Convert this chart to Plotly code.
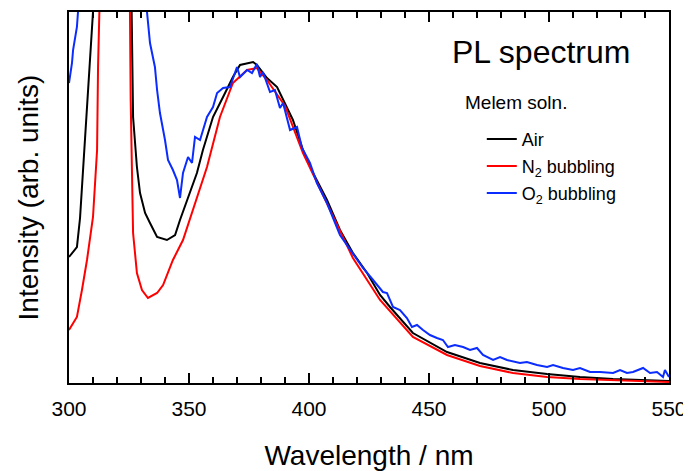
import plotly.graph_objects as go

# Wavelength (nm) and intensity (arb. units)
air_wl = [300.0, 303.3, 304.6, 306.7, 308.75, 310.0, 312.0, 318.0, 324.0, 326.1, 326.7, 328.3, 329.6,
          331.7, 333.75, 336.7, 340.8, 344.2, 346.25, 349.2, 353.3, 355.8, 360.0, 364.2, 368.3,
          371.25, 376.7, 378.3, 382.5, 386.7, 390.0, 393.3, 397.5, 401.7, 407.5, 412.9, 418.3,
          424.2, 429.6, 433.75, 443.3, 457.5, 471.25, 485.0, 499.2, 512.9, 526.7, 540.8, 550.0]
air_int = [126, 136, 165, 250, 326, 371, 600, 900, 600, 371, 266, 216, 190,
           170, 160, 146, 143, 148, 163, 183, 210, 233, 266, 286, 306,
           318, 321, 318, 305, 296, 280, 263, 233, 210, 183, 153, 130,
           110, 88, 76, 50, 31, 20, 13, 9, 6, 4, 3, 2]

n2_wl = [300.0, 303.3, 305.4, 307.5, 310.0, 311.7, 312.1, 312.9, 315.0, 319.0, 323.0, 325.4, 325.7,
         326.25, 326.7, 328.3, 330.4, 332.9, 336.7, 339.2, 343.3, 347.5, 351.7, 357.5, 362.9,
         368.3, 374.2, 378.3, 382.5, 390.0, 397.5, 407.5, 418.3, 429.6, 443.3, 457.5, 471.25,
         485.0, 499.2, 512.9, 526.7, 550.0]
n2_int = [53, 66, 93, 123, 166, 233, 316, 371, 700, 1000, 700, 371, 283,
          216, 150, 110, 93, 85, 90, 98, 123, 143, 173, 216, 266,
          300, 313, 315, 303, 277, 230, 180, 125, 83, 46, 28, 17,
          10, 6, 4, 3, 1]

o2_wl = [300.0, 301.25, 301.7, 303.3, 303.75, 310.0, 318.0, 327.0, 332.5, 333.75, 335.8, 336.7, 337.9,
         340.0, 341.25, 343.3, 345.0, 346.25, 347.5, 349.6, 351.25, 352.5, 354.6, 357.5, 360.0,
         361.7, 364.2, 367.1, 370.0, 371.25, 374.2, 376.25, 378.3, 379.6, 380.8, 383.75, 385.8,
         387.9, 389.2, 392.1, 395.0, 397.1, 400.4, 403.3, 407.5, 412.9, 417.1, 422.5, 426.7,
         430.8, 432.5, 435.0, 437.9, 440.8, 442.9, 445.0, 447.5, 450.4, 453.3, 455.8, 457.9,
         460.8, 464.2, 467.1, 470.0, 472.5, 476.7, 479.6, 482.5, 487.9, 490.8, 495.0, 499.2,
         501.7, 505.8, 510.0, 512.9, 517.1, 521.25, 526.7, 529.6, 532.5, 535.0, 539.2, 542.1,
         545.0, 547.5, 548.3, 550.0]
o2_int = [300, 320, 333, 356, 371, 800, 1200, 800, 371, 340, 316, 293, 270,
          243, 223, 213, 203, 185, 210, 226, 220, 246, 243, 266, 276,
          290, 295, 296, 316, 306, 313, 310, 319, 306, 311, 291, 293,
          275, 280, 253, 256, 235, 220, 200, 180, 148, 133, 115, 103,
          91, 90, 76, 73, 65, 56, 58, 53, 48, 45, 43, 36,
          38, 36, 33, 35, 28, 23, 26, 23, 20, 21, 18, 16,
          18, 15, 13, 15, 11, 11, 10, 13, 10, 11, 15, 10,
          11, 6, 13, 6]

x_ticks = [300, 350, 400, 450, 500, 550]
x_ticklabels = ["300", "350", "400", "450", "500", "550"]

FONT = "Arial, Liberation Sans, sans-serif"
LEG_FONT = dict(size=18, family=FONT, color="black")

fig = go.Figure()
fig.add_trace(go.Scatter(x=air_wl, y=air_int, mode="lines", name="Air",
                         line=dict(color="#000000", width=2), legend="legend"))
fig.add_trace(go.Scatter(x=n2_wl, y=n2_int, mode="lines", name="N<sub>2</sub> bubbling",
                         line=dict(color="#ff0000", width=2), legend="legend2"))
fig.add_trace(go.Scatter(x=o2_wl, y=o2_int, mode="lines", name="O<sub>2</sub> bubbling",
                         line=dict(color="#0a2cff", width=2), legend="legend3"))

leg_common = dict(x=0.688, xanchor="left", yanchor="middle", font=LEG_FONT,
                  bgcolor="rgba(0,0,0,0)", borderwidth=0)

# page has an 8px body margin, so the figure is sized/offset to land the plot area
fig.update_layout(
    width=683, height=463,
    margin=dict(l=61, r=22, t=4, b=88),
    paper_bgcolor="white", plot_bgcolor="white",
    font=dict(family=FONT, color="black"),
    showlegend=True,
    legend=dict(y=0.657, **leg_common),
    legend2=dict(y=0.584, **leg_common),
    legend3=dict(y=0.511, **leg_common),
    annotations=[
        dict(text="PL spectrum", xref="paper", yref="paper", x=0.787, y=0.892,
             xanchor="center", yanchor="middle", showarrow=False,
             font=dict(size=32, family=FONT)),
        dict(text="Melem soln.", xref="paper", yref="paper", x=0.657, y=0.757,
             xanchor="left", yanchor="middle", showarrow=False,
             font=dict(size=19, family=FONT)),
    ],
)

fig.update_xaxes(
    range=[300, 550], tickmode="array", tickvals=x_ticks, ticktext=x_ticklabels,
    ticks="inside", ticklen=10, tickwidth=1.5, tickcolor="black",
    minor=dict(dtick=10, ticks="inside", ticklen=6, tickwidth=1.5, tickcolor="black"),
    showline=True, linecolor="black", linewidth=2, mirror="ticks",
    showgrid=False, zeroline=False, automargin=False,
    tickfont=dict(size=21, family=FONT), ticklabelstandoff=6, ticklabeloverflow="allow",
    title=dict(text="Wavelength / nm", font=dict(size=28, family=FONT), standoff=27),
)
fig.update_yaxes(
    range=[0, 371], showticklabels=False, ticks="",
    showline=True, linecolor="black", linewidth=2, mirror=True,
    showgrid=False, zeroline=False, automargin=False,
    title=dict(text="Intensity (arb. units)", font=dict(size=28, family=FONT), standoff=20),
)

fig.write_html("out.html")
